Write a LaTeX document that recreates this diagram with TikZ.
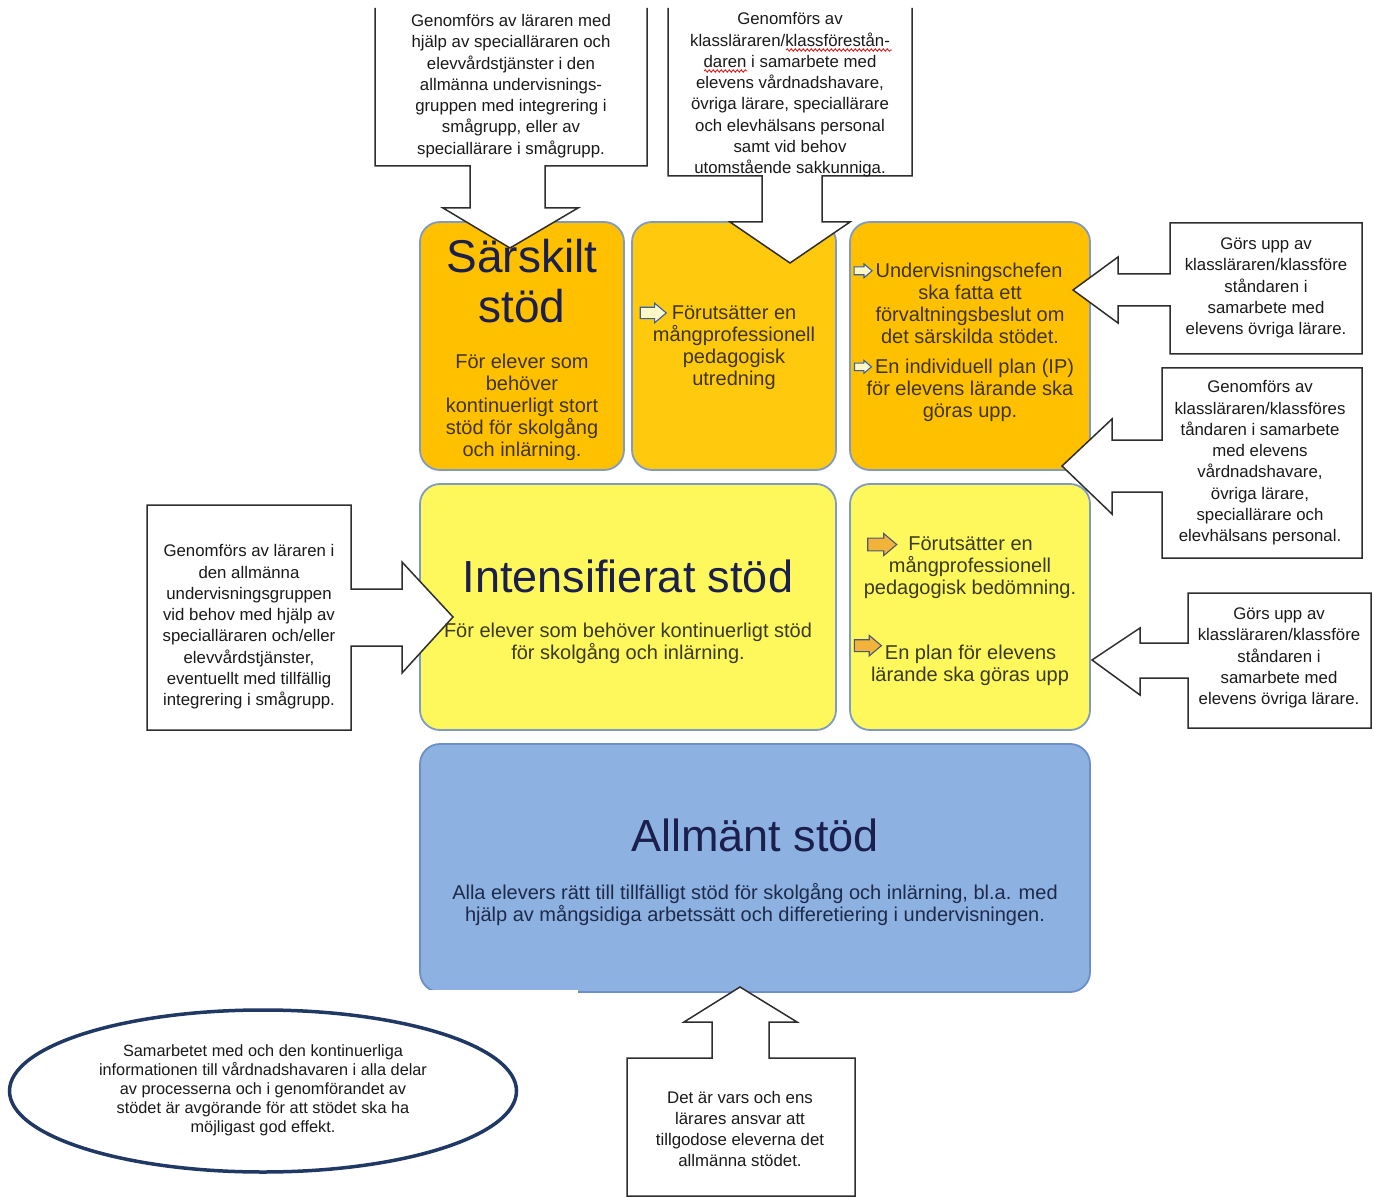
\documentclass[tikz,border=0pt]{standalone}
\usepackage{fontspec}
\setmainfont{Liberation Sans}
\usetikzlibrary{decorations.pathmorphing,shapes.geometric}
\definecolor{orangebox}{HTML}{FFC000}
\definecolor{orangemid}{HTML}{FFC90D}
\definecolor{yellowbox}{HTML}{FFF85C}
\definecolor{bluebox}{HTML}{8DB1E1}
\definecolor{boxline}{HTML}{7E9BC4}
\definecolor{blueline}{HTML}{6B8FC6}
\definecolor{titlecol}{HTML}{1B1F4E}
\definecolor{bodyorange}{HTML}{3F3514}
\definecolor{bodyyellow}{HTML}{3A3A1C}
\definecolor{bodyblue}{HTML}{1E2A4A}
\definecolor{callline}{HTML}{2E2E2E}
\definecolor{calltext}{HTML}{1A1A1A}
\definecolor{ellline}{HTML}{1F3864}
\definecolor{arrblue}{HTML}{3560A8}
\definecolor{arrlight}{HTML}{FFF8C8}
\definecolor{arrorange}{HTML}{F2B33A}
\definecolor{arrdark}{HTML}{4A5878}
\definecolor{squig}{HTML}{E02020}
\newcommand{\harrow}[4]{\raisebox{#4}{\tikz[baseline=-0.6ex,x=1pt,y=1pt,scale=#3]\draw[line width=1.1pt,draw=#1,fill=#2,line join=miter] (0,-2.2) -- (5.5,-2.2) -- (5.5,-3.8) -- (10,0) -- (5.5,3.8) -- (5.5,2.2) -- (0,2.2) -- cycle;}}
\begin{document}
\begin{tikzpicture}[x=1pt,y=-1pt,
  box/.style={draw=boxline,line width=1.8pt,rounded corners=20pt,inner sep=0pt},
  callout/.style={draw=callline,line width=1.5pt,fill=white,line join=miter},
  ctext/.style={align=center,text=calltext,font=\fontsize{16.8}{21.3}\selectfont,inner sep=0pt},
  btext/.style={align=center,font=\fontsize{20}{22}\selectfont,inner sep=0pt},
  titletext/.style={align=center,text=titlecol,inner sep=0pt}]
\useasboundingbox (0,0) rectangle (1374,1198);
\fill[white] (0,0) rectangle (1374,1198);

% main boxes
\node[box,fill=orangebox,minimum width=204pt,minimum height=248pt] (sar) at (522,346) {};
\node[box,fill=orangemid,minimum width=204pt,minimum height=248pt] (mid) at (734,346) {};
\node[box,fill=orangebox,minimum width=240pt,minimum height=248pt] (rgt) at (970,346) {};
\node[box,fill=yellowbox,minimum width=416pt,minimum height=246pt] (int) at (628,607) {};
\node[box,fill=yellowbox,minimum width=240pt,minimum height=246pt] (ryel) at (970,607) {};
\node[box,draw=blueline,fill=bluebox,minimum width=670pt,minimum height=248pt] (allm) at (755,868) {};
\fill[white] (416,990) rectangle (578,1001);

% callouts
\draw[callout] (375,8) -- (375,166) -- (470,166) -- (470,208) -- (443,208) -- (510,248) -- (578,208) -- (545,208) -- (545,166) -- (647,166) -- (647,8);
\draw[callout] (668,8) -- (668,176) -- (762,176) -- (762,222) -- (730,222) -- (790,263) -- (850,222) -- (822,222) -- (822,176) -- (912,176) -- (912,8);
\draw[callout] (1170,223) -- (1362,223) -- (1362,354) -- (1170,354) -- (1170,306) -- (1118,306) -- (1118,323) -- (1073,290) -- (1118,257) -- (1118,274) -- (1170,274) -- cycle;
\draw[callout] (1162,368) -- (1362,368) -- (1362,558) -- (1162,558) -- (1162,492) -- (1112,492) -- (1112,514) -- (1062,466) -- (1112,419) -- (1112,440) -- (1162,440) -- cycle;
\draw[callout] (1188,593) -- (1371,593) -- (1371,728) -- (1188,728) -- (1188,678) -- (1140,678) -- (1140,695) -- (1092,660) -- (1140,628) -- (1140,643) -- (1188,643) -- cycle;
\draw[callout] (351,505) -- (147,505) -- (147,730) -- (351,730) -- (351,646) -- (402,646) -- (402,673) -- (453,617) -- (402,562) -- (402,589) -- (351,589) -- cycle;
\draw[callout] (627,1196) -- (627,1058) -- (712,1058) -- (712,1022) -- (684,1022) -- (740,987) -- (797,1022) -- (769,1022) -- (769,1058) -- (855,1058) -- (855,1196) -- cycle;
\node[draw=ellline,line width=3.5pt,ellipse,minimum width=507pt,minimum height=162pt,inner sep=0pt] (ell) at (263,1091) {};

% box texts
\node[titletext,font=\fontsize{46}{50}\selectfont] (sart) at (522,281) {Särskilt\\stöd};
\node[btext,text=bodyorange] (sarb) at (522,407) {För elever som\\behöver\\kontinuerligt stort\\stöd för skolgång\\och inlärning.};
\node[btext,text=bodyorange] (midb) at (734,346) {\harrow{arrblue}{arrlight}{2.6}{0pt}\hspace{5pt}Förutsätter en\hspace*{32pt}\\mångprofessionell\\pedagogisk\\utredning};
\node[btext,text=bodyorange] (rgt1) at (970,303) {\harrow{arrblue}{arrlight}{1.8}{0pt}\hspace{3pt}Undervisningschefen\hspace*{24pt}\\ska fatta ett\\förvaltningsbeslut om\\det särskilda stödet.};
\node[btext,text=bodyorange] (rgt2) at (970,390) {\harrow{arrblue}{arrlight}{1.7}{0pt}\hspace{3pt}En individuell plan (IP)\hspace*{12pt}\\för elevens lärande ska\\göras upp.};
\node[titletext,font=\fontsize{45}{50}\selectfont] (intt) at (628,576) {Intensifierat stöd};
\node[btext,text=bodyyellow] (intb) at (628,643) {För elever som behöver kontinuerligt stöd\\för skolgång och inlärning.};
\node[btext,text=bodyyellow] (ry1) at (970,566) {\harrow{arrdark}{arrorange}{2.9}{0pt}\hspace{11pt}Förutsätter en\hspace*{40pt}\\mångprofessionell\\pedagogisk bedömning.};
\node[btext,text=bodyyellow] (ry2) at (970,660) {\harrow{arrdark}{arrorange}{2.7}{7pt}\hspace{3pt}En plan för elevens\hspace*{30pt}\\lärande ska göras upp};
\node[titletext,font=\fontsize{45}{50}\selectfont] (allt) at (755,835) {Allmänt stöd};
\node[btext,text=bodyblue] (allb) at (755,905) {Alla elevers rätt till tillfälligt stöd för skolgång och inlärning, bl.a. med\\hjälp av mångsidiga arbetssätt och differetiering i undervisningen.};

% callout texts
\node[ctext] (c1) at (511,86) {Genomförs av läraren med\\hjälp av specialläraren och\\elevvårdstjänster i den\\allmänna undervisnings-\\gruppen med integrering i\\smågrupp, eller av\\speciallärare i smågrupp.};
\node[ctext] (c2) at (790,95) {Genomförs av\\klassläraren/klassförestån-\\daren i samarbete med\\elevens vårdnadshavare,\\övriga lärare, speciallärare\\och elevhälsans personal\\samt vid behov\\utomstående sakkunniga.};
\node[ctext] (r1) at (1266,288) {Görs upp av\\klassläraren/klassföre\\ståndaren i\\samarbete med\\elevens övriga lärare.};
\node[ctext] (r2) at (1260,463) {Genomförs av\\klassläraren/klassföres\\tåndaren i samarbete\\med elevens\\vårdnadshavare,\\övriga lärare,\\speciallärare och\\elevhälsans personal.};
\node[ctext] (r3) at (1279,658) {Görs upp av\\klassläraren/klassföre\\ståndaren i\\samarbete med\\elevens övriga lärare.};
\node[ctext] (lt) at (249,627) {Genomförs av läraren i\\den allmänna\\undervisningsgruppen\\vid behov med hjälp av\\specialläraren och/eller\\elevvårdstjänster,\\eventuellt med tillfällig\\integrering i smågrupp.};
\node[ctext] (bt) at (740,1129) {Det är vars och ens\\lärares ansvar att\\tillgodose eleverna det\\allmänna stödet.};
\node[ctext,font=\fontsize{16.3}{19}\selectfont] (et) at (263,1090) {Samarbetet med och den kontinuerliga\\informationen till vårdnadshavaren i alla delar\\av processerna och i genomförandet av\\stödet är avgörande för att stödet ska ha\\möjligast god effekt.};

% spell-check squiggles
\draw[squig,line width=0.9pt,decorate,decoration={snake,amplitude=1.2pt,segment length=4pt}] (786,50) -- (892,50);
\draw[squig,line width=0.9pt,decorate,decoration={snake,amplitude=1.2pt,segment length=4pt}] (704,71) -- (747,71);
\end{tikzpicture}
\end{document}
